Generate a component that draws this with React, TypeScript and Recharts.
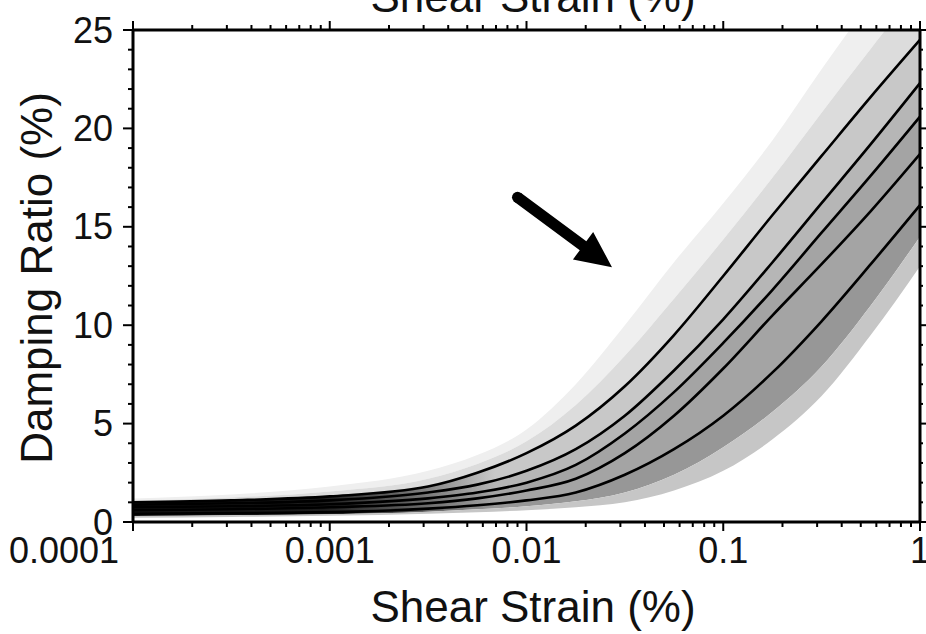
import {
  Area,
  ComposedChart,
  Line,
  ReferenceLine,
  XAxis,
  YAxis,
} from 'recharts'

// shear strain samples (%)
const strain = [
  0.0001, 0.000316, 0.001, 0.00316, 0.00562, 0.01, 0.0178, 0.0316, 0.0562,
  0.1, 0.178, 0.316, 0.562, 1,
]

// black median curves, top to bottom
const dampA = [1.0, 1.1, 1.3, 1.8, 2.5, 3.5, 4.9, 6.9, 9.5, 12.5, 15.6, 18.6, 21.6, 24.5]
const dampB = [0.88, 0.95, 1.1, 1.5, 1.9, 2.6, 3.7, 5.4, 7.7, 10.3, 13.2, 16.2, 19.2, 22.3]
const dampC = [0.75, 0.8, 0.9, 1.2, 1.5, 2.0, 2.9, 4.5, 6.6, 9.1, 11.8, 14.7, 17.6, 20.6]
const dampD = [0.6, 0.65, 0.75, 0.95, 1.2, 1.6, 2.2, 3.5, 5.4, 7.8, 10.5, 13.1, 15.8, 18.7]
const dampE = [0.42, 0.45, 0.5, 0.68, 0.85, 1.1, 1.5, 2.4, 3.7, 5.4, 7.6, 10.2, 13.1, 16.1]

// grey envelopes of the realisations
const edgeTop = [1.2, 1.4, 1.8, 2.6, 3.4, 4.7, 7.0, 10.0, 13.2, 16.2, 19.4, 23.0, 26.5, 30.0]
const edgeMid = [1.1, 1.25, 1.55, 2.2, 2.95, 4.1, 5.95, 8.45, 11.35, 14.35, 17.5, 20.8, 24.05, 27.25]
const edgeLow = [0.3, 0.34, 0.4, 0.52, 0.65, 0.8, 1.05, 1.5, 2.4, 3.8, 5.6, 7.9, 11.0, 14.5]
const edgeBottom = [0.22, 0.26, 0.32, 0.42, 0.5, 0.6, 0.75, 1.0, 1.6, 2.6, 4.2, 6.4, 9.5, 13.0]

// axis ticks
const xMajor = [0.0001, 0.001, 0.01, 0.1, 1]
const xLabels = ['0.0001', '0.001', '0.01', '0.1', '1']
const yMajor = [0, 5, 10, 15, 20, 25]

const xTicks: number[] = []
xMajor.slice(0, -1).forEach((d) => {
  for (let m = 1; m < 10; m++) xTicks.push(Number((m * d).toPrecision(3)))
})
xTicks.push(1)
const yTicks: number[] = []
for (let v = 0; v <= 25; v++) yTicks.push(v)

const data = strain.map((x, i) => ({
  x,
  a: dampA[i],
  b: dampB[i],
  c: dampC[i],
  d: dampD[i],
  e: dampE[i],
  fade: [edgeMid[i], edgeTop[i]],
  pale: [dampA[i], edgeMid[i]],
  bandAB: [dampB[i], dampA[i]],
  bandBC: [dampC[i], dampB[i]],
  bandCE: [dampE[i], dampC[i]],
  bandLow: [edgeLow[i], dampE[i]],
  fringe: [edgeBottom[i], edgeLow[i]],
}))

const FONT = '"Liberation Sans", Arial, Helvetica, sans-serif'

const BottomTick = ({ x, y, payload }: any) => {
  const idx = xMajor.indexOf(payload.value)
  const major = idx >= 0
  const first = idx === 0
  return (
    <g>
      <line x1={x} y1={y} x2={x} y2={y + (major ? 9 : 5)} stroke="#000" strokeWidth={2} />
      {major && (
        <text
          x={first ? x - 14 : x}
          y={y + 15}
          dy="0.71em"
          textAnchor={first ? 'end' : 'middle'}
          fontSize={36}
          fontFamily={FONT}
          fill="#111"
        >
          {xLabels[idx]}
        </text>
      )}
    </g>
  )
}

const TopTick = ({ x, y, payload }: any) => {
  const major = xMajor.includes(payload.value)
  return <line x1={x} y1={y} x2={x} y2={y - (major ? 9 : 5)} stroke="#000" strokeWidth={2} />
}

const LeftTick = ({ x, y, payload }: any) => {
  const major = yMajor.includes(payload.value)
  return (
    <g>
      <line x1={x} y1={y} x2={x - (major ? 10 : 5)} y2={y} stroke="#000" strokeWidth={2} />
      {major && (
        <text x={x - 20} y={y} dy="0.35em" textAnchor="end" fontSize={36} fontFamily={FONT} fill="#111">
          {payload.value}
        </text>
      )}
    </g>
  )
}

const RightTick = ({ x, y, payload }: any) => {
  const major = yMajor.includes(payload.value)
  return <line x1={x} y1={y} x2={x + (major ? 6 : 3)} y2={y} stroke="#000" strokeWidth={2} />
}

const BottomTitle = ({ viewBox }: any) => (
  <text x={viewBox.x + 400} y={viewBox.y + 100} textAnchor="middle" fontSize={44} fontFamily={FONT} fill="#111">
    Shear Strain (%)
  </text>
)

const TopTitle = ({ viewBox }: any) => (
  <text x={viewBox.x + 400} y={viewBox.y + 12} textAnchor="middle" fontSize={44} fontFamily={FONT} fill="#111">
    Shear Strain (%)
  </text>
)

const LeftTitle = ({ viewBox }: any) => {
  const cx = viewBox.x + 52
  const cy = viewBox.y + viewBox.height / 2 + 2
  return (
    <text
      x={cx}
      y={cy}
      transform={`rotate(-90, ${cx}, ${cy})`}
      textAnchor="middle"
      fontSize={44}
      fontFamily={FONT}
      fill="#111"
    >
      Damping Ratio (%)
    </text>
  )
}

const ArrowShape = (p: any) => {
  const { x1, y1, x2, y2 } = p
  const dx = x2 - x1
  const dy = y2 - y1
  const len = Math.hypot(dx, dy)
  const ux = dx / len
  const uy = dy / len
  const nx = -uy
  const ny = ux
  const head = 36
  const wing = 17
  const shaft = 5.5
  const bx = x2 - ux * head
  const by = y2 - uy * head
  const pts = [
    [x1 + nx * shaft, y1 + ny * shaft],
    [bx + nx * shaft, by + ny * shaft],
    [bx + nx * wing, by + ny * wing],
    [x2, y2],
    [bx - nx * wing, by - ny * wing],
    [bx - nx * shaft, by - ny * shaft],
    [x1 - nx * shaft, y1 - ny * shaft],
  ]
  return (
    <g>
      <polygon points={pts.map((q) => q.join(',')).join(' ')} fill="#000" />
      <circle cx={x1} cy={y1} r={shaft} fill="#000" />
    </g>
  )
}

// key, colour, darkened at small strains where the realisations pile up
const bands: [string, string, boolean][] = [
  ['fade', '#efefef', false],
  ['pale', '#dcdcdc', false],
  ['bandAB', '#c8c8c8', true],
  ['bandBC', '#b6b6b6', true],
  ['bandCE', '#a4a4a4', true],
  ['bandLow', '#979797', true],
  ['fringe', '#c6c6c6', false],
]

const App = () => {
  return (
    <div style={{ position: 'absolute', left: 0, top: 0, background: '#fff' }}>
      <ComposedChart width={926} height={634} data={data} margin={{ top: 0, right: 0, bottom: 0, left: 0 }}>
        <defs>
          {bands
            .filter((b) => b[2])
            .map(([key, fill]) => (
              <linearGradient key={key} id={`g-${key}`} x1="0" y1="0" x2="1" y2="0">
                <stop offset="0" stopColor="#141414" />
                <stop offset="0.24" stopColor="#1c1c1c" />
                <stop offset="0.46" stopColor={fill} />
                <stop offset="1" stopColor={fill} />
              </linearGradient>
            ))}
        </defs>
        <XAxis
          xAxisId="b"
          dataKey="x"
          type="number"
          scale="log"
          domain={[0.0001, 1]}
          allowDataOverflow
          ticks={xTicks}
          interval={0}
          tickSize={0}
          tickMargin={0}
          tickLine={false}
          tick={BottomTick}
          axisLine={{ stroke: '#000', strokeWidth: 3 }}
          height={112}
          label={<BottomTitle />}
        />
        <XAxis
          xAxisId="t"
          orientation="top"
          dataKey="x"
          type="number"
          scale="log"
          domain={[0.0001, 1]}
          allowDataOverflow
          ticks={xTicks}
          interval={0}
          tickSize={0}
          tickMargin={0}
          tickLine={false}
          tick={TopTick}
          axisLine={{ stroke: '#000', strokeWidth: 3 }}
          height={30}
          label={<TopTitle />}
        />
        <YAxis
          yAxisId="l"
          type="number"
          domain={[0, 25]}
          allowDataOverflow
          ticks={yTicks}
          interval={0}
          tickSize={0}
          tickMargin={0}
          tickLine={false}
          tick={LeftTick}
          axisLine={{ stroke: '#000', strokeWidth: 3 }}
          width={133}
          label={<LeftTitle />}
        />
        <YAxis
          yAxisId="r"
          orientation="right"
          type="number"
          domain={[0, 25]}
          allowDataOverflow
          ticks={yTicks}
          interval={0}
          tickSize={0}
          tickMargin={0}
          tickLine={false}
          tick={RightTick}
          axisLine={{ stroke: '#000', strokeWidth: 3 }}
          width={6}
        />
        {bands.map(([key, fill, dark]) => (
          <Area
            key={key}
            xAxisId="b"
            yAxisId="l"
            type="monotone"
            dataKey={key}
            stroke="none"
            fill={dark ? `url(#g-${key})` : fill}
            fillOpacity={1}
            dot={false}
            activeDot={false}
            isAnimationActive={false}
          />
        ))}
        {['a', 'b', 'c', 'd', 'e'].map((key) => (
          <Line
            key={key}
            xAxisId="b"
            yAxisId="l"
            type="monotone"
            dataKey={key}
            stroke="#000"
            strokeWidth={2.6}
            dot={false}
            activeDot={false}
            isAnimationActive={false}
          />
        ))}
        <ReferenceLine
          xAxisId="b"
          yAxisId="l"
          segment={[
            { x: 0.009, y: 16.5 },
            { x: 0.0272, y: 12.95 },
          ]}
          ifOverflow="visible"
          shape={ArrowShape}
        />
      </ComposedChart>
    </div>
  )
}

export default App
